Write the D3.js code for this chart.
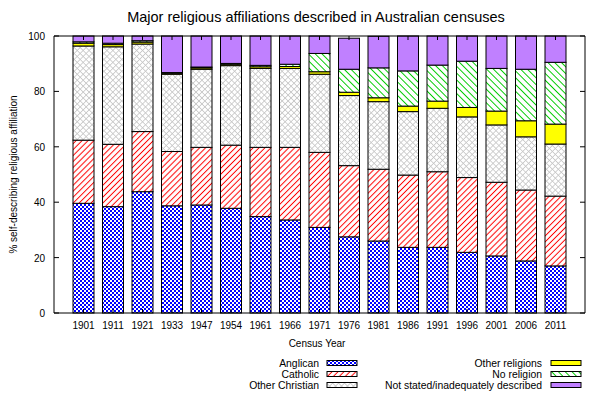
<!DOCTYPE html>
<html>
<head>
<meta charset="utf-8">
<script src="https://cdn.jsdelivr.net/npm/d3@7"></script>
<style>
  body { margin: 0; background: #fff; }
  text { font-family: "Liberation Sans", Arial, sans-serif; fill: #000; }
</style>
</head>
<body>
<div id="chart"></div>
<script>
const years = ["1901","1911","1921","1933","1947","1954","1961","1966","1971","1976","1981","1986","1991","1996","2001","2006","2011"];
const anglican       = [39.6,38.4,43.8,38.7,39.0,37.8,34.8,33.6,30.9,27.5,26.0,23.7,23.7,21.9,20.6,18.8,17.0];
const catholic       = [22.8,22.5,21.7,19.6,20.8,22.8,25.0,26.2,27.1,25.7,25.9,26.1,27.3,27.0,26.6,25.6,25.2];
const otherChristian = [34.0,35.2,31.6,27.9,28.2,28.7,28.5,28.5,28.2,25.3,24.4,22.9,22.9,21.9,20.7,19.2,18.8];
const otherReligions = [1.0,0.8,0.7,0.4,0.5,0.5,0.6,0.7,0.9,1.2,1.4,2.0,2.6,3.4,5.0,5.8,7.2];
const noReligion     = [0.5,0.5,0.5,0.2,0.3,0.3,0.5,0.8,6.6,8.3,10.8,12.7,13.0,16.7,15.4,18.6,22.3];
const notStated      = [2.1,2.6,1.7,13.2,11.2,9.9,10.6,10.2,6.3,11.2,11.4,12.6,10.5,9.1,11.7,12.0,9.5];
const yTicks = [0,20,40,60,80,100];

const series = [
  { key: "Anglican", values: anglican, fill: "url(#pAnglican)" },
  { key: "Catholic", values: catholic, fill: "url(#pCatholic)" },
  { key: "Other Christian", values: otherChristian, fill: "url(#pOtherChr)" },
  { key: "Other religions", values: otherReligions, fill: "#ffff00" },
  { key: "No religion", values: noReligion, fill: "url(#pNoRel)" },
  { key: "Not stated/inadequately described", values: notStated, fill: "#c080ff" }
];

const width = 600, height = 400;
const plotL = 54, plotR = 585, plotT = 36, plotB = 313;

const svg = d3.select("#chart").append("svg")
  .attr("width", width).attr("height", height);

// patterns
const defs = svg.append("defs");
const pa = defs.append("pattern").attr("id", "pAnglican")
  .attr("patternUnits", "userSpaceOnUse").attr("width", 4).attr("height", 4);
pa.append("rect").attr("width", 4).attr("height", 4).style("fill", "#fff");
pa.append("rect").attr("width", 2).attr("height", 2).style("fill", "#0000ff");
pa.append("rect").attr("x", 2).attr("y", 2).attr("width", 2).attr("height", 2).style("fill", "#0000ff");

// one-direction hatch: vertical line in a tile, rotated
function hatch(id, color, angle, gap, sw) {
  const p = defs.append("pattern").attr("id", id)
    .attr("patternUnits", "userSpaceOnUse")
    .attr("width", gap).attr("height", gap)
    .attr("patternTransform", `rotate(${angle})`);
  p.append("rect").attr("width", gap).attr("height", gap).style("fill", "#fff");
  p.append("line").attr("x1", gap / 2).attr("x2", gap / 2).attr("y1", 0).attr("y2", gap)
    .style("stroke", color).style("stroke-width", sw);
}
hatch("pCatholic", "#ff0000", 45, 4.2, 1);
hatch("pNoRel", "#00cc00", -45, 4.8, 1);

// cross hatch for other christian
const po = defs.append("pattern").attr("id", "pOtherChr")
  .attr("patternUnits", "userSpaceOnUse")
  .attr("width", 4.2).attr("height", 4.2)
  .attr("patternTransform", "rotate(45)");
po.append("rect").attr("width", 4.2).attr("height", 4.2).style("fill", "#fff");
po.append("line").attr("x1", 2.1).attr("x2", 2.1).attr("y1", 0).attr("y2", 4.2)
  .style("stroke", "#c6c6c6").style("stroke-width", 0.8);
po.append("line").attr("x1", 0).attr("x2", 4.2).attr("y1", 2.1).attr("y2", 2.1)
  .style("stroke", "#c6c6c6").style("stroke-width", 0.8);

const x = d3.scaleLinear().domain([-1, 17]).range([plotL, plotR]);
const y = d3.scaleLinear().domain([0, 100]).range([plotB, plotT]);
const barW = 21;

const table = years.map((yr, i) => {
  const row = { year: yr, i: i };
  series.forEach(s => row[s.key] = s.values[i]);
  return row;
});
const stacked = d3.stack().keys(series.map(s => s.key))(table);

stacked.forEach((layer, k) => {
  svg.append("g").selectAll("rect")
    .data(layer).enter()
    .append("rect")
    .attr("x", d => x(d.data.i) - barW / 2)
    .attr("y", d => y(d[1]))
    .attr("width", barW)
    .attr("height", d => y(d[0]) - y(d[1]))
    .attr("fill", series[k].fill)
    .attr("stroke", "#000")
    .attr("stroke-width", 1);
});

// border and ticks
const axes = svg.append("g").attr("stroke", "#000").attr("stroke-width", 1).attr("fill", "none");
axes.append("path").attr("d", `M${plotL},${plotT} L${plotL},${plotB} L${plotR},${plotB} L${plotR},${plotT} Z`);
yTicks.forEach(t => {
  axes.append("line").attr("x1", plotL).attr("x2", plotL + 5).attr("y1", y(t)).attr("y2", y(t));
  axes.append("line").attr("x1", plotR).attr("x2", plotR - 5).attr("y1", y(t)).attr("y2", y(t));
});
years.forEach((yr, i) => {
  axes.append("line").attr("x1", x(i)).attr("x2", x(i)).attr("y1", plotB).attr("y2", plotB - 4);
  axes.append("line").attr("x1", x(i)).attr("x2", x(i)).attr("y1", plotT).attr("y2", plotT + 4);
});

svg.append("g").selectAll("text")
  .data(yTicks).enter()
  .append("text")
  .attr("x", plotL - 9).attr("y", d => y(d) + 4)
  .attr("text-anchor", "end").attr("font-size", "10px")
  .text(d => d);

svg.append("g").selectAll("text")
  .data(years).enter()
  .append("text")
  .attr("x", (d, i) => x(i)).attr("y", plotB + 16)
  .attr("text-anchor", "middle").attr("font-size", "10px")
  .text(d => d);

svg.append("text")
  .attr("x", 316).attr("y", 22)
  .attr("text-anchor", "middle").attr("font-size", "14.5px")
  .text("Major religious affiliations described in Australian censuses");

svg.append("text")
  .attr("x", 317).attr("y", 347)
  .attr("text-anchor", "middle").attr("font-size", "10px")
  .text("Census Year");

svg.append("text")
  .attr("transform", `translate(17,${(plotT + plotB) / 2}) rotate(-90)`)
  .attr("text-anchor", "middle").attr("font-size", "10px")
  .text("% self-describing religious affiliation");

// legend
series.forEach((s, k) => {
  const col = k < 3 ? 0 : 1;
  const row = k % 3;
  const textX = col === 0 ? 319 : 542;
  const swX = col === 0 ? 327 : 551;
  const cy = 363 + row * 11;
  svg.append("text")
    .attr("x", textX).attr("y", cy + 3.5)
    .attr("text-anchor", "end").attr("font-size", "10.4px")
    .text(s.key);
  svg.append("rect")
    .attr("x", swX).attr("y", cy - 2.5)
    .attr("width", 30).attr("height", 5)
    .attr("fill", s.fill)
    .attr("stroke", "#000").attr("stroke-width", 1);
});
</script>
</body>
</html>
